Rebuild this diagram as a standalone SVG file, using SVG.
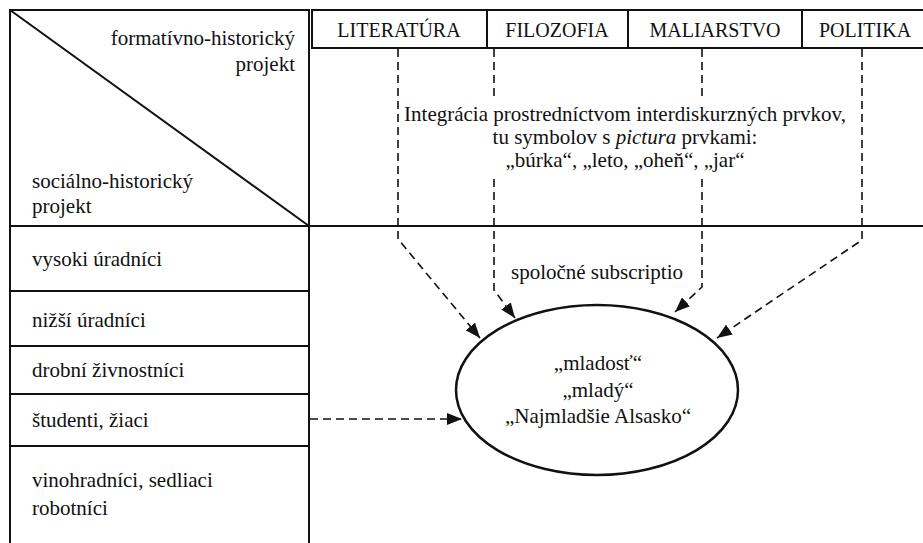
<svg xmlns="http://www.w3.org/2000/svg" width="923" height="543" viewBox="0 0 923 543">
<style>
  text { font-family: 'Liberation Serif', Tinos, 'Times New Roman', 'DejaVu Serif', serif; font-size: 21px; fill: #111; }
  .hdr { font-size: 20px; text-anchor: middle; }
  .mid { text-anchor: middle; }
  .end { text-anchor: end; }
  .frame { fill: none; stroke: #111; stroke-width: 2; }
  .conn { fill: none; stroke: #111; stroke-width: 1.6; stroke-dasharray: 8 5; }
</style>
<defs>
  <marker id="arr" markerUnits="userSpaceOnUse" markerWidth="16" markerHeight="12" refX="15" refY="6" orient="auto">
    <path d="M0,0 L15,6 L0,12 z" fill="#111"/>
  </marker>
</defs>
<rect width="923" height="543" fill="#fff"/>

<g id="corner">
  <rect class="frame" x="10" y="10" width="299" height="216"/>
  <line x1="10" y1="10" x2="309" y2="226" stroke="#111" stroke-width="2"/>
  <text class="end" x="295" y="45" font-family="Liberation Serif, serif">formatívno-historický</text>
  <text class="end" x="295" y="71">projekt</text>
  <text x="32" y="188">sociálno-historický</text>
  <text x="32" y="213">projekt</text>
</g>

<g id="header">
  <rect class="frame" x="312" y="10" width="620" height="38"/>
  <line x1="487" y1="10" x2="487" y2="48" stroke="#111" stroke-width="2"/>
  <line x1="628" y1="10" x2="628" y2="48" stroke="#111" stroke-width="2"/>
  <line x1="802" y1="10" x2="802" y2="48" stroke="#111" stroke-width="2"/>
  <text class="hdr" x="399" y="37">LITERATÚRA</text>
  <text class="hdr" x="557" y="37">FILOZOFIA</text>
  <text class="hdr" x="715" y="37">MALIARSTVO</text>
  <text class="hdr" x="865" y="37">POLITIKA</text>
</g>

<line x1="309" y1="226" x2="923" y2="226" stroke="#111" stroke-width="2"/>

<g id="rows">
  <rect class="frame" x="10" y="226" width="299" height="330"/>
  <line x1="10" y1="291" x2="309" y2="291" stroke="#111" stroke-width="2"/>
  <line x1="10" y1="346" x2="309" y2="346" stroke="#111" stroke-width="2"/>
  <line x1="10" y1="394" x2="309" y2="394" stroke="#111" stroke-width="2"/>
  <line x1="10" y1="446" x2="309" y2="446" stroke="#111" stroke-width="2"/>
  <text x="32" y="266">vysoki úradníci</text>
  <text x="32" y="327">nižší úradníci</text>
  <text x="32" y="377">drobní živnostníci</text>
  <text x="32" y="427">študenti, žiaci</text>
  <text x="32" y="487">vinohradníci, sedliaci</text>
  <text x="32" y="515">robotníci</text>
</g>

<g id="connectors">
  <path class="conn" d="M398,49 V239 L480,338" marker-end="url(#arr)"/>
  <path class="conn" d="M494,49 V290 L515,318" marker-end="url(#arr)"/>
  <path class="conn" d="M702,49 V287 L675,312" marker-end="url(#arr)"/>
  <path class="conn" d="M862,49 V240 L717,338" marker-end="url(#arr)"/>
  <path class="conn" d="M310,419 H462" marker-end="url(#arr)"/>
</g>

<g id="integration">
  <rect x="404" y="96" width="454" height="78" fill="#fff"/>
  <text class="mid" x="625" y="121">Integrácia prostredníctvom interdiskurzných prvkov,</text>
  <text class="mid" x="625" y="144">tu symbolov s <tspan font-style="italic">pictura</tspan> prvkami:</text>
  <text class="mid" x="625" y="167">„búrka“, „leto, „oheň“, „jar“</text>
</g>

<g id="subscriptio">
  <text class="mid" x="597" y="279">spoločné subscriptio</text>
</g>

<g id="youth">
  <ellipse cx="597" cy="390" rx="141" ry="85" fill="#fff" stroke="#111" stroke-width="2.5"/>
  <text class="mid" x="598" y="370">„mladosť“</text>
  <text class="mid" x="598" y="397">„mladý“</text>
  <text class="mid" x="598" y="423">„Najmladšie Alsasko“</text>
</g>
</svg>
